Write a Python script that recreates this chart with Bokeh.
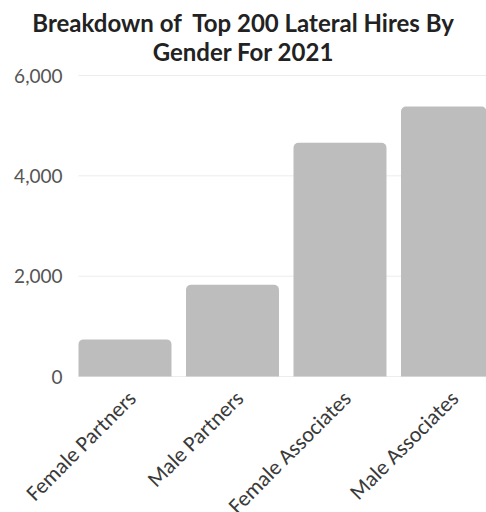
import math
from bokeh.plotting import figure
from bokeh.models import Range1d, ColumnDataSource
from bokeh.embed import file_html
from bokeh.resources import INLINE

categories = ["Female Partners", "Male Partners", "Female Associates", "Male Associates"]
hires = [740, 1830, 4660, 5380]
y_ticks = [0, 2000, 4000, 6000]
title_lines = ["Breakdown of\u00a0 Top 200 Lateral Hires By", "Gender For 2021"]

W, H = 486, 512
# plot area in canvas pixels: left edge, zero baseline, top tick
AREA_LEFT, BASE_Y, TOP_Y = 78, 376, 75
STEP_PX = 107.5                       # pixels per category
PX_PER_UNIT = (BASE_Y - TOP_Y) / y_ticks[-1]
BAR_W = 0.865

def xdata(px):
    return (px - AREA_LEFT) / STEP_PX - BAR_W / 2

def ydata(py):
    return (BASE_Y - py) / PX_PER_UNIT

xs = list(range(len(categories)))
src = ColumnDataSource(dict(x=xs, top=hires, cat=categories))

# the frame covers the whole canvas, so all texts are drawn through the same scales
p = figure(width=W, height=H, output_backend="svg", toolbar_location=None,
           x_range=Range1d(xdata(0), xdata(W)), y_range=Range1d(ydata(H), ydata(0)),
           min_border=0)
p.axis.visible = False
p.grid.visible = False
p.outline_line_color = None

x_left, x_right = xdata(AREA_LEFT), xdata(W)

# horizontal grid lines
p.segment(x0=[x_left] * len(y_ticks), x1=[x_right] * len(y_ticks),
          y0=y_ticks, y1=y_ticks, line_color="#ececec", line_width=1)

# bars
p.vbar(x="x", top="top", width=BAR_W, bottom=0, source=src,
       fill_color="#bdbdbd", line_color=None, border_radius=(5, 5, 0, 0))

# y tick labels
p.text(x=[x_left] * len(y_ticks), y=y_ticks, text=[f"{t:,}" for t in y_ticks],
       x_offset=-16, text_align="right", text_baseline="middle",
       text_font={"value": "Lato"}, text_font_size="19px", text_color="#555555")

# rotated category labels
p.text(x="x", y=ydata(BASE_Y + 18), text="cat", source=src, x_offset=7,
       angle=math.pi / 4, text_align="right", text_baseline="middle",
       text_font={"value": "Carlito"}, text_font_size="22px", text_color="#3a3a3a")

# title
p.text(x=[(xdata(0) + xdata(W)) / 2] * 2, y=[ydata(22), ydata(51)], text=title_lines,
       text_align="center", text_baseline="middle", text_font={"value": "Lato"},
       text_font_size="24px", text_font_style="bold", text_color="#222222")

open("out.html", "w").write(file_html(p, INLINE))
